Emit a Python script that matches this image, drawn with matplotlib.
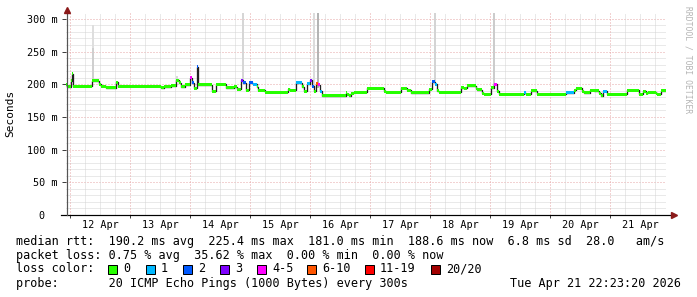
"""
Smokeping style latency graph (10 days), redrawn with matplotlib.
Writes out.png (697x297).
"""

import matplotlib

matplotlib.use("Agg")
import matplotlib.pyplot as plt
import numpy as np
from matplotlib.patches import Rectangle

# --- data -------------------------------------------------------------
# step start times in days from 12 Apr 00:00, median rtt (ms), lost pings of 20
step_t = [
    -0.068, -0.045, 0.012, 0.025, 0.045, 0.372, 0.483, 0.522, 0.594, 0.761,
    0.800, 1.511, 1.567, 1.678, 1.772, 1.817, 1.856, 1.911, 2.000, 2.039,
    2.067, 2.111, 2.139, 2.372, 2.428, 2.594, 2.733, 2.789, 2.844, 2.889,
    2.928, 2.983, 3.056, 3.111, 3.139, 3.244, 3.633, 3.667, 3.761, 3.872,
    3.900, 3.956, 3.994, 4.028, 4.067, 4.106, 4.130, 4.167, 4.206, 4.594,
    4.622, 4.650, 4.678, 4.733, 4.944, 5.233, 5.261, 5.511, 5.622, 5.689,
    5.983, 6.028, 6.078, 6.111, 6.150, 6.511, 6.567, 6.622, 6.761, 6.789,
    6.872, 6.900, 7.022, 7.067, 7.122, 7.150, 7.567, 7.594, 7.689, 7.778,
    8.261, 8.400, 8.433, 8.539, 8.567, 8.667, 8.733, 8.817, 8.856, 8.889,
    8.944, 9.289, 9.483, 9.556, 9.594, 9.639, 9.761, 9.789, 9.856,
]
end_t = 9.932
median_ms = [
    199, 196, 205, 216, 197, 205, 200, 197, 194.5, 203,
    197, 195, 196.5, 198, 206, 202, 196, 199.5, 210, 202,
    194, 227, 199.5, 189, 200, 195, 196, 192.5, 206, 202.5,
    191, 202.5, 200, 196, 191, 187.5, 192.5, 191, 202, 196,
    189, 201, 206, 197, 189, 201, 199, 189, 182.5, 187,
    185, 182.5, 186, 188, 194, 189, 187.5, 194, 191, 187,
    192.5, 204, 200, 190, 188, 195, 194, 197.5, 194, 191.5,
    186, 185, 195, 200, 189, 185, 187, 185, 190, 185,
    187, 191, 194, 189, 187, 191, 190, 186, 182.5, 189,
    185, 191, 185, 189, 186, 187.5, 186, 185, 190,
]
lost = [
    0, 0, 0, 0, 0, 0, 0, 0, 0, 0,
    0, 0, 0, 0, 0, 0, 0, 0, 4, 2,
    0, 2, 0, 0, 0, 0, 0, 0, 3, 2,
    0, 2, 1, 0, 0, 0, 0, 0, 1, 0,
    0, 1, 3, 2, 0, 6, 4, 1, 0, 0,
    0, 0, 0, 0, 0, 0, 0, 0, 0, 0,
    0, 2, 1, 0, 0, 0, 0, 0, 0, 0,
    0, 0, 0, 4, 0, 0, 1, 0, 0, 0,
    1, 0, 0, 0, 0, 0, 0, 0, 0, 1,
    0, 0, 0, 0, 0, 0, 0, 0, 0,
]

# smoke spikes (light grey), time in days, low/high ms
smoke_t = [0.38, 0.38, 1.78, 2.889, 4.067, 4.133, 6.083, 7.067]
smoke_lo = [205, 205, 204, 204, 195, 195, 202, 198]
smoke_hi = [290, 255, 212, 320, 320, 320, 320, 320]
smoke_col = ["#dedede", "#cfcfcf", "#d8d8d8", "#d6d6d6", "#dcdcdc", "#b4b4b4", "#d4d4d4", "#cccccc"]

day_labels = ["12 Apr", "13 Apr", "14 Apr", "15 Apr", "16 Apr",
              "17 Apr", "18 Apr", "19 Apr", "20 Apr", "21 Apr"]
y_ticks = [0, 50, 100, 150, 200, 250, 300]
y_labels = ["0  ", "50 m", "100 m", "150 m", "200 m", "250 m", "300 m"]

loss_names = ["0", "1", "2", "3", "4-5", "6-10", "11-19", "20/20"]
loss_colors = ["#26ff00", "#00b8ff", "#0059ff", "#7e00ff",
               "#ff00ff", "#ff5500", "#ff0000", "#a10000"]

W, H = 697, 297
FONT = "DejaVu Sans Mono"


def loss_bin(n):
    if n <= 3:
        return n
    if n <= 5:
        return 4
    if n <= 10:
        return 5
    if n <= 19:
        return 6
    return 7


def fx(px):
    return px / W


def fy(py):
    return 1 - py / H


def main():
    fig = plt.figure(figsize=(W / 100, H / 100), dpi=100)
    fig.patch.set_facecolor("white")
    ax = fig.add_axes([fx(66), fy(215), 600 / W, 202 / H])
    ax.set_xlim(-0.0667, 9.9333)
    ax.set_ylim(0, 309)
    for s in ax.spines.values():
        s.set_visible(False)
    ax.set_facecolor("white")

    px = 0.72  # one pixel in points
    # grid
    for v in range(10, 310, 10):
        major = v % 50 == 0
        ax.axhline(v, color="#e6a6a6" if major else "#d4d4d4", lw=px,
                   ls=(0, (1, 1)) if not major else (0, (1, 2)), zorder=1)
    for d in np.arange(0, 10, 0.25):
        major = abs(d - round(d)) < 1e-6
        ax.axvline(d, color="#e6a6a6" if major else "#d4d4d4", lw=px,
                   ls=(0, (1, 1)) if not major else (0, (1, 2)), zorder=1)

    # smoke
    ax.vlines(smoke_t, smoke_lo, smoke_hi, colors=smoke_col, lw=2 * px, zorder=2)

    # median: dark step line, loss coloured band on top
    t = np.array(step_t + [end_t])
    v = np.array(median_ms)
    ax.step(t, np.append(v, v[-1]), where="post", color="#202020", lw=1.3 * px, zorder=3)
    band = 4.6
    cols = [loss_colors[loss_bin(n)] for n in lost]
    ax.bar(t[:-1], band, width=np.diff(t), bottom=v - band / 2, align="edge",
           color=cols, lw=0, zorder=4)

    # axes lines and arrows
    ax.plot([-0.15, 10.0], [0, 0], color="black", lw=1.2 * px, clip_on=False, zorder=5)
    ax.plot([-0.05, -0.05], [0, 311], color="#555555", lw=1.2 * px, clip_on=False, zorder=5)
    ax.plot([10.07], [0], marker=">", color="#8b1a1a", ms=4, clip_on=False, zorder=6)
    ax.plot([-0.05], [314], marker="^", color="#8b1a1a", ms=4, clip_on=False, zorder=6)

    # ticks
    ax.set_yticks(y_ticks)
    ax.set_yticklabels(y_labels, family=FONT, fontsize=7.3)
    ax.set_xticks(range(0, 10))
    ax.set_xticklabels([])
    ax.set_xticks(np.arange(0.5, 10, 1), minor=True)
    ax.set_xticklabels(day_labels, minor=True, family=FONT, fontsize=7.3)
    ax.tick_params(axis="y", length=3, width=px, pad=3, color="#404040")
    ax.tick_params(axis="x", which="major", length=2, width=px, color="#404040")
    ax.tick_params(axis="x", which="minor", length=0, pad=3.5)

    fig.text(fx(10), fy(113), "Seconds", rotation=90, family=FONT, fontsize=8,
             ha="center", va="center")
    fig.text(fx(688), fy(60), "RRDTOOL / TOBI OETIKER", rotation=270, family=FONT,
             fontsize=5.8, color="#b4b4b4", ha="center", va="center")

    # legend block
    lines = [
        (241, "median rtt:  190.2 ms avg  225.4 ms max  181.0 ms min  188.6 ms now  6.8 ms sd  28.0   am/s"),
        (256, "packet loss: 0.75 % avg  35.62 % max  0.00 % min  0.00 % now"),
        (269, "loss color:"),
        (283, "probe:       20 ICMP Echo Pings (1000 Bytes) every 300s"),
    ]
    for y, s in lines:
        fig.text(fx(16), fy(y), s, family=FONT, fontsize=8.5, va="center", ha="left")
    sq_x = [108, 146, 183, 220, 257, 307, 365, 431]
    for x, name, c in zip(sq_x, loss_names, loss_colors):
        fig.add_artist(Rectangle((fx(x), fy(273.5)), 9 / W, 9 / H, transform=fig.transFigure,
                                 fc=c, ec="black", lw=px))
        fig.text(fx(x + 15), fy(269), name, family=FONT, fontsize=8.5, va="center", ha="left")
    fig.text(fx(681), fy(283), "Tue Apr 21 22:23:20 2026", family=FONT, fontsize=8.5,
             va="center", ha="right")

    fig.savefig("out.png", dpi=100)
    plt.close(fig)


if __name__ == "__main__":
    main()
